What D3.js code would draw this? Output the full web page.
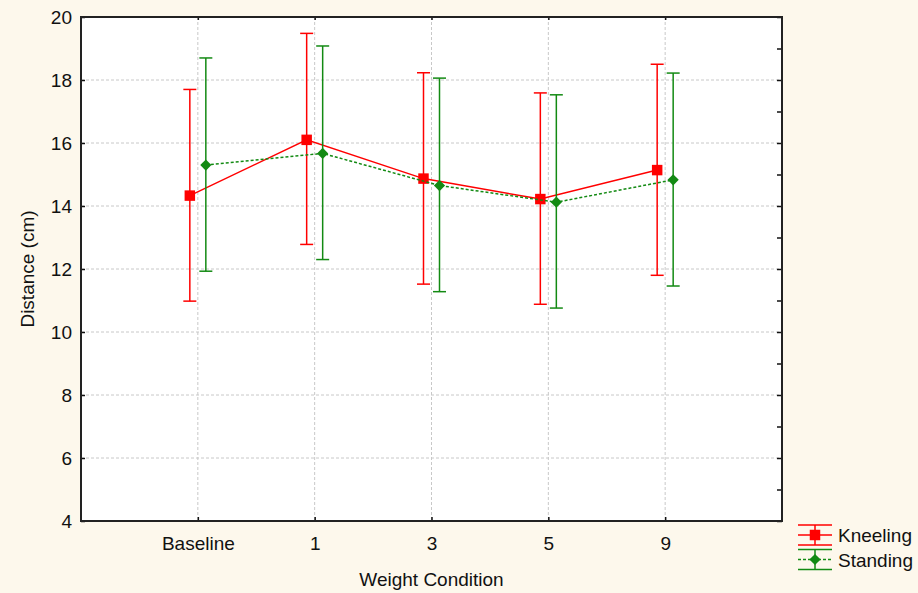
<!DOCTYPE html>
<html>
<head>
<meta charset="utf-8">
<script src="https://cdn.jsdelivr.net/npm/d3@7"></script>
<style>
  body { margin: 0; background: #fdf8ec; }
  text { font-family: "Liberation Sans", Arial, sans-serif; }
</style>
</head>
<body>
<svg id="chart" width="918" height="593"></svg>
<script>
// data
const categories = ['Baseline', '1', '3', '5', '9'];
const kneelingMean = [14.33, 16.1, 14.87, 14.22, 15.14];
const kneelingHigh = [17.7, 19.48, 18.23, 17.59, 18.5];
const kneelingLow  = [10.98, 12.78, 11.52, 10.88, 11.8];
const standingMean = [15.3, 15.67, 14.65, 14.12, 14.83];
const standingHigh = [18.7, 19.08, 18.06, 17.53, 18.22];
const standingLow  = [11.93, 12.3, 11.28, 10.76, 11.46];
const yTicks = [4, 6, 8, 10, 12, 14, 16, 18, 20];

const fontSize = '19px';
const svg = d3.select('#chart');
const margin = {top: 17, right: 136, bottom: 72, left: 81};
const width = 918 - margin.left - margin.right;
const height = 593 - margin.top - margin.bottom;

const g = svg.append('g').attr('transform', 'translate(' + margin.left + ',' + margin.top + ')');

// one empty slot on each side of the categories
const xScale = d3.scalePoint().domain(['', ...categories, ' ']).range([0, width]);
const yScale = d3.scaleLinear().domain([4, 20]).range([height, 0]);

g.append('rect').attr('width', width).attr('height', height).attr('fill', 'white');

// grid
g.selectAll('line.hgrid')
    .data(yTicks.slice(1, -1))
    .enter().append('line')
        .attr('class', 'hgrid')
        .attr('x1', 0).attr('x2', width)
        .attr('y1', d => yScale(d)).attr('y2', d => yScale(d))
        .attr('stroke', '#c8c8c8').attr('stroke-dasharray', '3,2');

g.selectAll('line.vgrid')
    .data(categories)
    .enter().append('line')
        .attr('class', 'vgrid')
        .attr('x1', d => xScale(d)).attr('x2', d => xScale(d))
        .attr('y1', 0).attr('y2', height)
        .attr('stroke', '#c8c8c8').attr('stroke-dasharray', '3,2');

// axes
const yAxis = d3.axisLeft(yScale).tickValues(yTicks).tickSize(-4).tickPadding(9);
const yG = g.append('g').call(yAxis);
yG.select('.domain').remove();
yG.selectAll('text').style('font-size', fontSize).attr('fill', '#111');

const yRight = d3.axisRight(yScale).ticks(16).tickSize(-5).tickFormat('');
const yRG = g.append('g').attr('transform', 'translate(' + width + ',0)').call(yRight);
yRG.select('.domain').remove();

const xAxis = d3.axisBottom(xScale).tickValues(categories).tickSize(-4).tickPadding(16);
const xG = g.append('g').attr('transform', 'translate(0,' + height + ')').call(xAxis);
xG.select('.domain').remove();
xG.selectAll('text').style('font-size', fontSize).attr('fill', '#111');

const xTop = d3.axisTop(xScale).tickValues(categories).tickSize(-3).tickFormat('');
const xTG = g.append('g').call(xTop);
xTG.select('.domain').remove();

g.selectAll('.tick line').attr('stroke', '#111').attr('stroke-width', 1.5);

// frame
g.append('rect').attr('width', width).attr('height', height)
    .attr('fill', 'none').attr('stroke', '#222').attr('stroke-width', 2);

// series
const series = [
    {name: 'Kneeling', mean: kneelingMean, high: kneelingHigh, low: kneelingLow,
     color: '#ff0000', shift: -8, dash: null, marker: 'square'},
    {name: 'Standing', mean: standingMean, high: standingHigh, low: standingLow,
     color: '#138a13', shift: 8, dash: '3,2', marker: 'diamond'}
];

series.forEach(s => {
    const pts = categories.map((c, i) => ({c: c, m: s.mean[i], hi: s.high[i], lo: s.low[i]}));
    const px = d => xScale(d.c) + s.shift;

    const sg = g.append('g');
    sg.selectAll('line.bar').data(pts).enter().append('line')
        .attr('x1', px).attr('x2', px)
        .attr('y1', d => yScale(d.hi)).attr('y2', d => yScale(d.lo))
        .attr('stroke', s.color).attr('stroke-width', 1.5);
    ['hi', 'lo'].forEach(k => {
        sg.selectAll('line.cap' + k).data(pts).enter().append('line')
            .attr('x1', d => px(d) - 6.5).attr('x2', d => px(d) + 6.5)
            .attr('y1', d => yScale(d[k])).attr('y2', d => yScale(d[k]))
            .attr('stroke', s.color).attr('stroke-width', 1.5);
    });

    const line = d3.line().x(px).y(d => yScale(d.m));
    sg.append('path').datum(pts).attr('d', line)
        .attr('fill', 'none').attr('stroke', s.color).attr('stroke-width', 1.5)
        .attr('stroke-dasharray', s.dash);

    const sym = s.marker === 'square'
        ? d3.symbol().type(d3.symbolSquare).size(110)
        : d3.symbol().type(d3.symbolDiamond2).size(80);
    sg.selectAll('path.pt').data(pts).enter().append('path')
        .attr('transform', d => 'translate(' + px(d) + ',' + yScale(d.m) + ')')
        .attr('d', sym).attr('fill', s.color);
});

// axis titles
svg.append('text')
    .attr('x', margin.left + width / 2).attr('y', 586)
    .attr('text-anchor', 'middle').style('font-size', fontSize).attr('fill', '#111')
    .text('Weight Condition');
svg.append('text')
    .attr('transform', 'translate(34,' + (margin.top + height / 2) + ') rotate(-90)')
    .attr('text-anchor', 'middle').style('font-size', fontSize).attr('fill', '#111')
    .text('Distance (cm)');

// legend
const legend = svg.append('g').attr('transform', 'translate(798,535)');
series.forEach((s, i) => {
    const lg = legend.append('g').attr('transform', 'translate(0,' + (i * 24.5) + ')');
    [-10, 10].forEach(dy => {
        lg.append('line').attr('x1', 0).attr('x2', 34).attr('y1', dy).attr('y2', dy)
            .attr('stroke', s.color).attr('stroke-width', 1.5);
    });
    lg.append('line').attr('x1', 17).attr('x2', 17).attr('y1', -10).attr('y2', 10)
        .attr('stroke', s.color).attr('stroke-width', 1.5);
    lg.append('line').attr('x1', 0).attr('x2', 34).attr('y1', 0).attr('y2', 0)
        .attr('stroke', s.color).attr('stroke-width', 1.5).attr('stroke-dasharray', s.dash);
    const sym = s.marker === 'square'
        ? d3.symbol().type(d3.symbolSquare).size(110)
        : d3.symbol().type(d3.symbolDiamond2).size(80);
    lg.append('path').attr('transform', 'translate(17,0)').attr('d', sym).attr('fill', s.color);
    lg.append('text').attr('x', 40).attr('y', 7).style('font-size', fontSize).attr('fill', '#111')
        .text(s.name);
});
</script>
</body>
</html>
